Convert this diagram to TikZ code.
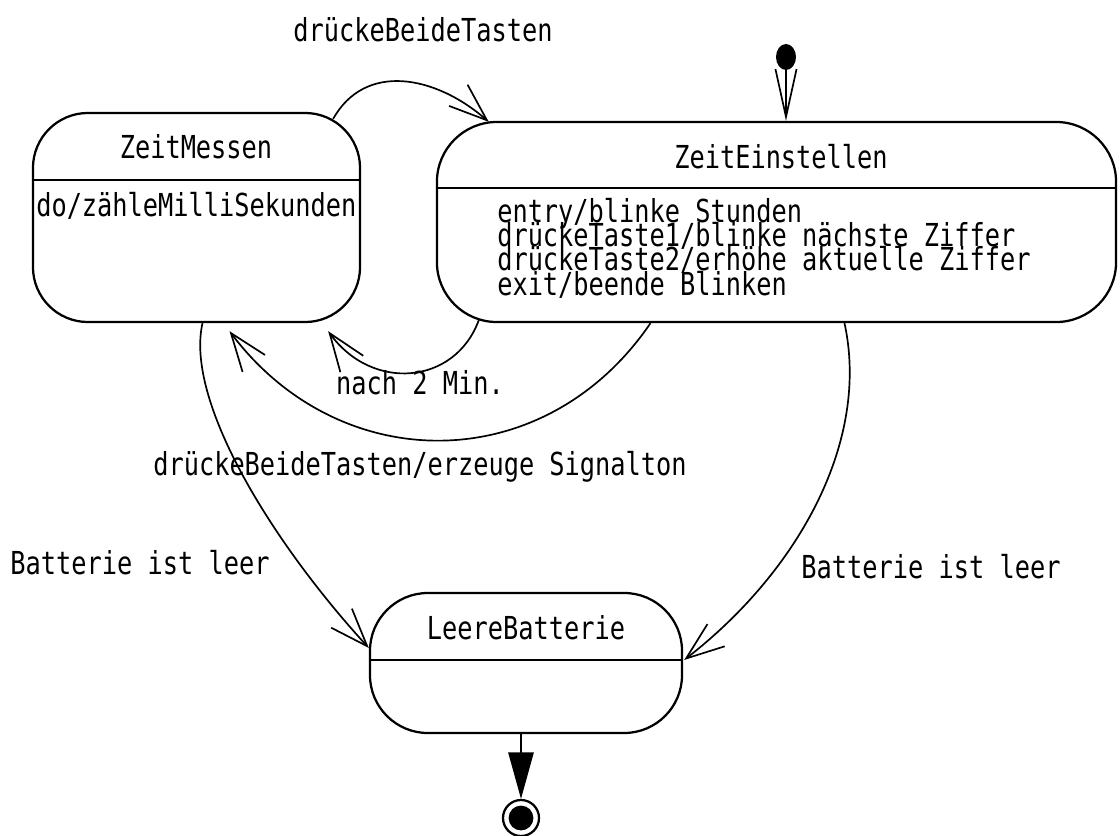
\documentclass[tikz,border=0pt]{standalone}
\usepackage{fontspec}
\setmonofont[FakeStretch=0.8]{DejaVu Sans Mono}
\usetikzlibrary{arrows.meta,shapes.geometric}

\begin{document}
\begin{tikzpicture}[x=0.025cm, y=-0.025cm, every node/.style = {inner sep=0pt,
	font={\ttfamily\fontsize{22.5}{17.2}\selectfont\lineskiplimit=-50pt}},
	state/.style = {draw, line width=1.6pt, rectangle},
	trans/.style = {line width=1.2pt, -{Straight Barb[length=27pt,width=20pt]}}]

	\useasboundingbox (0,0) rectangle (1120,836);

	% zustaende
	\node[state, minimum width=8.175cm, minimum height=5.225cm, rounded corners=1.375cm] (zm) at (196.5,217.5) {};
	\node[state, minimum width=16.975cm, minimum height=5cm, rounded corners=1.5cm] (ze) at (776.5,222) {};
	\node[state, minimum width=7.8cm, minimum height=3.5cm, rounded corners=1.45cm] (lb) at (526,663) {};
	\draw[line width=1.6pt] (zm.west |- 0,180) -- (zm.east |- 0,180);
	\draw[line width=1.6pt] (ze.west |- 0,188) -- (ze.east |- 0,188);
	\draw[line width=1.6pt] (lb.west |- 0,660) -- (lb.east |- 0,660);

	\node (zmname) at (196,147) {ZeitMessen};
	\node[anchor=west] (zmdo) at (36,206) {do/zähleMilliSekunden};
	\node (zename) at (781,157) {ZeitEinstellen};
	\node[anchor=north west, align=left] (zedo) at (497,198) {entry/blinke Stunden\\
		drückeTaste1/blinke nächste Ziffer\\drückeTaste2/erhöhe aktuelle Ziffer\\exit/beende Blinken};
	\node (lbname) at (526,628) {LeereBatterie};

	% start und ende
	\node[ellipse, fill, minimum width=0.5cm, minimum height=0.65cm] (init) at (786,57) {};
	\node[circle, draw, line width=1.6pt, minimum size=0.9cm] (final) at (521,818) {};
	\node[circle, fill, minimum size=0.62cm] (finaldot) at (final) {};
	\draw[line width=1.2pt, -{Straight Barb[length=34pt,width=15pt]}] (init.south) -- (init |- ze.north);
	\draw[line width=1.2pt, -{Triangle[length=33pt,width=18pt]}] (lb.south -| final) -- (final.north);

	% uebergaenge
	\draw[trans] ([shift={(-28,7)}]zm.north east) .. controls (365,62) and (435,75) .. ([shift={(53,1)}]ze.north west);
	\draw[trans] ([shift={(43,-3)}]ze.south west) .. controls (455,385) and (372,392) .. ([shift={(-33,8)}]zm.south east);
	\draw[trans] ([shift={(-126,0)}]ze.south) .. controls (545,478) and (340,478) .. ([shift={(33,8)}]zm.south);
	\draw[trans] ([shift={(6,0)}]zm.south) .. controls (185,400) and (270,540) .. ([shift={(0,-15)}]lb.west);
	\draw[trans] ([shift={(68,0)}]ze.south) .. controls (870,440) and (800,570) .. ([shift={(1,-3)}]lb.east);

	\node (lbbeide) at (423,30) {drückeBeideTasten};
	\node (lbnach) at (420,383) {nach 2 Min.};
	\node (lbsignal) at (420,467) {drückeBeideTasten/erzeuge Signalton};
	\node (lbleerl) at (140,563) {Batterie ist leer};
	\node (lbleerr) at (931,567) {Batterie ist leer};
\end{tikzpicture}
\end{document}
